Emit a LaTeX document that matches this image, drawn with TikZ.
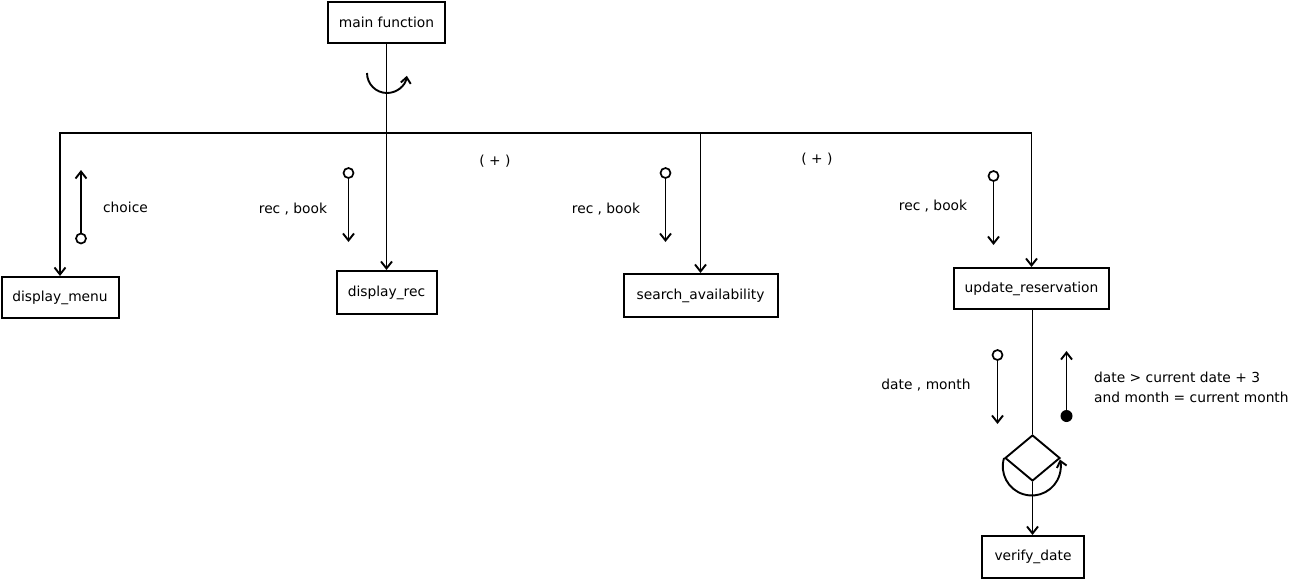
\documentclass[tikz,border=0pt]{standalone}
\usepackage{fontspec}
\setmainfont{DejaVu Sans}
\usetikzlibrary{arrows.meta,shapes.geometric}
\begin{document}
\begin{tikzpicture}[x=1pt,y=-1pt,
  every node/.style={font=\fontsize{13.8}{20}\selectfont},
  box/.style={draw,line width=2pt,inner sep=0pt,minimum height=#1},
  box/.default=41pt,
  flow/.style={line width=1.9pt,-{Straight Barb[length=7pt,width=11pt,line width=1.9pt]}},
  plain/.style={line width=1.9pt},
  ocirc/.style={circle,draw,line width=1.7pt,fill=white,minimum size=10pt,inner sep=0pt},
  fcirc/.style={circle,fill=black,minimum size=12pt,inner sep=0pt},
  lbl/.style={inner sep=0pt}]
\useasboundingbox (0,0) rectangle (1292,579);

% modules
\node[box,minimum width=117pt] (main) at (386.5,22.5) {main function};
\node[box,minimum width=117pt] (menu) at (60,297.5) {display\_menu};
\node[box=43pt,minimum width=100pt] (rec) at (386.5,292.5) {display\_rec};
\node[box=43pt,minimum width=154pt] (search) at (700.5,295.5) {search\_availability};
\node[box,minimum width=155pt] (upd) at (1031.5,288.5) {update\_reservation};
\node[box=42pt,minimum width=102pt] (ver) at (1033,557) {verify\_date};
\node[draw,diamond,line width=1.9pt,inner sep=0pt,minimum width=55pt,minimum height=46pt] (dia) at (1032.5,458) {};

% call structure
\coordinate (hub) at (386.5,133);
\draw[plain] (main.south) -- (hub);
\draw[flow] (hub) -- (rec.north);
\draw[flow] (hub) -| (menu.north);
\draw[flow] (hub) -| (upd.north);
\draw[flow] (hub -| search.north) -- (search.north);
\draw[plain] (upd.south -| dia.north) -- (dia.north);
\draw[flow] (dia.south) -- (dia.south |- ver.north);

% iteration loops
\draw[line width=1.9pt,-{Straight Barb[length=6pt,width=10pt,line width=1.9pt]}]
  (367,73) arc[start angle=180,end angle=8,radius=20];
\draw[line width=1.9pt,-{Straight Barb[length=6pt,width=10pt,line width=1.9pt]}]
  (dia.west) arc[start angle=197,end angle=-14,radius=29];

% data couples
\node[ocirc] (c1) at (81,238.5) {};
\coordinate (c1e) at (81,170);
\draw[flow] (c1) -- (c1e);
\node[lbl] (t1) at (125.5,207) {choice};

\node[ocirc] (c2) at (348.5,173) {};
\coordinate (c2e) at (348.5,242);
\draw[flow] (c2) -- (c2e);
\node[lbl] (t2) at (293,209.5) {rec , book};

\node[ocirc] (c3) at (665.5,173) {};
\coordinate (c3e) at (665.5,242);
\draw[flow] (c3) -- (c3e);
\node[lbl] (t3) at (606,209.5) {rec , book};

\node[ocirc] (c4) at (993.5,176) {};
\coordinate (c4e) at (993.5,245);
\draw[flow] (c4) -- (c4e);
\node[lbl] (t4) at (933,206.5) {rec , book};

\node[ocirc] (c5) at (997.5,355) {};
\coordinate (c5e) at (997.5,424);
\draw[flow] (c5) -- (c5e);
\node[lbl] (t5) at (926,385.5) {date , month};

\node[fcirc] (c6) at (1066.5,416) {};
\coordinate (c6e) at (1066.5,351);
\draw[flow] (c6) -- (c6e);
\node[lbl,anchor=west,align=left] (t6) at (1094,387) {date > current date + 3\\and month = current month};

% selection markers
\node[lbl] (s1) at (495,161) {( + )};
\node[lbl] (s2) at (817,159) {( + )};
\end{tikzpicture}
\end{document}
